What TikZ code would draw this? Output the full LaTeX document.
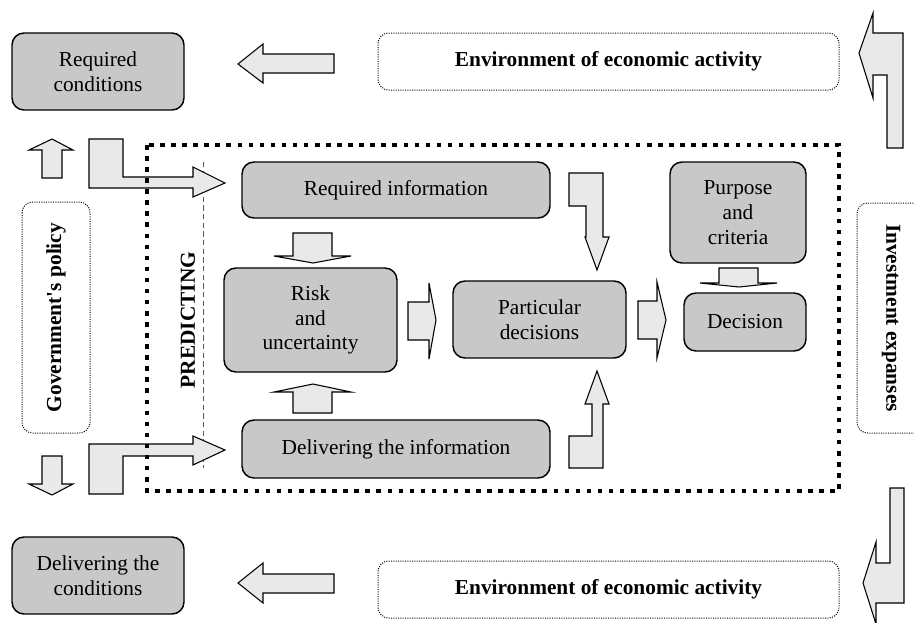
\documentclass[tikz,border=0pt]{standalone}
\usepackage{fontspec}
\setmainfont{Liberation Serif}
\definecolor{boxgray}{RGB}{200,200,200}
\definecolor{arrowgray}{RGB}{233,233,233}
\begin{document}
\begin{tikzpicture}[x=0.75pt,y=-0.75pt,
  box/.style={draw=black,line width=1.1pt,fill=boxgray,rounded corners=9pt,align=center,
    inner sep=2pt,font=\fontsize{16}{18.5}\selectfont},
  dotbox/.style={draw=black,line width=0.75pt,dash pattern=on 0.75pt off 1pt,rounded corners=8pt,
    align=center,font=\fontsize{16}{18}\selectfont\bfseries},
  blockarrow/.style={draw=black,line width=0.8pt,fill=arrowgray,line join=miter},
  predframe/.style={line width=3.4pt,dash pattern=on 3.4pt off 4.9pt},
  divider/.style={black!65,line width=0.6pt,dash pattern=on 4pt off 2.5pt}]
  \useasboundingbox (0,0) rectangle (914,622);
  \node [box,minimum width=129pt,minimum height=57.75pt] (reqcond) at (98,71.5) {Required\\conditions};
  \node [box,minimum width=129pt,minimum height=57.75pt] (delcond) at (98,575.5) {Delivering the\\conditions};
  \node [dotbox,minimum width=345.75pt,minimum height=42.75pt] (envtop) at (608.5,61.5) {Environment of economic activity};
  \node [dotbox,minimum width=345.75pt,minimum height=42.75pt] (envbot) at (608.5,589.5) {Environment of economic activity};
  \node [dotbox,rotate=90,minimum width=173.25pt,minimum height=51pt] (govpol) at (56,317.5) {Government\textquotesingle s policy};
  \node [dotbox,rotate=-90,minimum width=172.5pt,minimum height=51pt] (invest) at (891,318) {Investment expanses};
  \node [box,minimum width=231pt,minimum height=42pt] (reqinfo) at (396,190) {Required information};
  \node [box,minimum width=129.75pt,minimum height=78pt] (risk) at (310.5,320) {Risk\\and\\uncertainty};
  \node [box,minimum width=231pt,minimum height=43.5pt] (delinfo) at (396,449) {Delivering the information};
  \node [box,minimum width=129.75pt,minimum height=57.75pt] (partdec) at (539.5,319.5) {Particular\\decisions};
  \node [box,minimum width=102pt,minimum height=75.75pt] (purpose) at (738,212.5) {Purpose\\and\\criteria};
  \node [box,minimum width=91.5pt,minimum height=43.5pt] (decision) at (745,322) {Decision};
  \node [rotate=90,font=\fontsize{16}{18}\selectfont\bfseries] (predict) at (188,320) {PREDICTING};
  \draw [divider] (203,162) -- (203,468);
  \draw [blockarrow] (334,54) -- (263,54) -- (263,44) -- (238,64) -- (263,83) -- (263,73) -- (334,73) -- cycle;
  \draw [blockarrow] (334,574) -- (263,574) -- (263,563) -- (238,583) -- (263,603) -- (263,593) -- (334,593) -- cycle;
  \draw [blockarrow] (42,178) -- (42,150) -- (29,150) -- (52,139) -- (73,150) -- (62,150) -- (62,178) -- cycle;
  \draw [blockarrow] (42,456) -- (42,484) -- (29,484) -- (52,495) -- (73,484) -- (62,484) -- (62,456) -- cycle;
  \draw [blockarrow] (89,139) -- (123,139) -- (123,177) -- (193,177) -- (193,167) -- (225,183) -- (193,197)
    -- (193,188) -- (89,188) -- cycle;
  \draw [blockarrow] (89,494) -- (89,444) -- (193,444) -- (193,436) -- (225,450) -- (193,465) -- (193,456)
    -- (123,456) -- (123,494) -- cycle;
  \draw [blockarrow] (293,233) -- (332,233) -- (332,256) -- (351,256) -- (313,263) -- (274,256) -- (293,256) -- cycle;
  \draw [blockarrow] (293,413) -- (293,392) -- (274,392) -- (313,384) -- (351,392) -- (332,392) -- (332,413) -- cycle;
  \draw [blockarrow] (408,302) -- (429,302) -- (429,283) -- (436,320) -- (429,359) -- (429,340) -- (408,340) -- cycle;
  \draw [blockarrow] (638,301) -- (657,301) -- (657,282) -- (666,320) -- (657,358) -- (657,339) -- (638,339) -- cycle;
  \draw [blockarrow] (569,173) -- (603,173) -- (603,237) -- (609,237) -- (597,270) -- (585,237) -- (586,237)
    -- (586,206) -- (569,206) -- cycle;
  \draw [blockarrow] (569,468) -- (603,468) -- (603,404) -- (609,404) -- (597,371) -- (585,404) -- (592,404)
    -- (592,436) -- (569,436) -- cycle;
  \draw [blockarrow] (719,268) -- (758,268) -- (758,283) -- (777,283) -- (739,287) -- (700,283) -- (719,283) -- cycle;
  \draw [blockarrow] (903,148) -- (903,33) -- (873,33) -- (873,13) -- (859,53) -- (873,98) -- (873,75) -- (887,75)
    -- (887,148) -- cycle;
  \draw [blockarrow] (904,488) -- (890,488) -- (890,563) -- (876,563) -- (876,542) -- (863,583) -- (876,624)
    -- (876,603) -- (904,603) -- cycle;
  \draw [predframe] (147,145) rectangle (839,491);
\end{tikzpicture}
\end{document}
